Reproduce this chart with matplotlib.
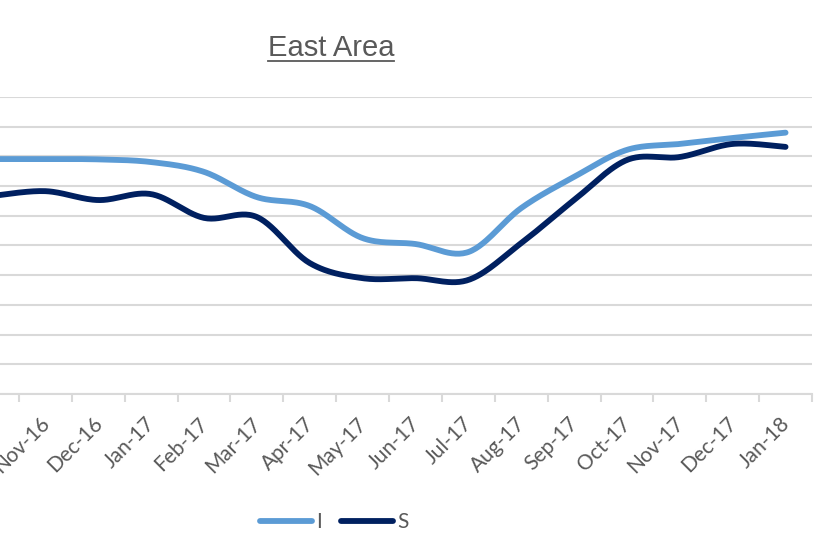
import numpy as np
import matplotlib
matplotlib.use("Agg")
import matplotlib.pyplot as plt
from matplotlib.lines import Line2D
from matplotlib.transforms import ScaledTranslation

months = ["Oct-16", "Nov-16", "Dec-16", "Jan-17", "Feb-17", "Mar-17", "Apr-17",
          "May-17", "Jun-17", "Jul-17", "Aug-17", "Sep-17", "Oct-17", "Nov-17",
          "Dec-17", "Jan-18"]
series_i = [7.91, 7.91, 7.90, 7.81, 7.48, 6.63, 6.33, 5.25, 5.05, 4.78,
            6.26, 7.31, 8.22, 8.42, 8.62, 8.80]
series_s = [6.67, 6.83, 6.53, 6.73, 5.93, 5.96, 4.41, 3.90, 3.90, 3.84,
            5.08, 6.53, 7.88, 7.98, 8.42, 8.32]

GRID = "#d9d9d9"
TEXT = "#595959"
TITLE_FONT = "Liberation Sans"
LABEL_FONT = "Lato"


def smooth(x, y, steps=30):
    # bezier through every point, tangents as in a Catmull-Rom spline
    x = np.asarray(x, float)
    y = np.asarray(y, float)
    px = np.concatenate([[x[0]], x, [x[-1]]])
    py = np.concatenate([[y[0]], y, [y[-1]]])
    xs, ys = [], []
    t = np.linspace(0, 1, steps)
    for k in range(len(x) - 1):
        p0 = np.array([px[k], py[k]])
        p1 = np.array([px[k + 1], py[k + 1]])
        p2 = np.array([px[k + 2], py[k + 2]])
        p3 = np.array([px[k + 3], py[k + 3]])
        c1 = p1 + (p2 - p0) / 6.0
        c2 = p2 - (p3 - p1) / 6.0
        b = ((1 - t) ** 3)[:, None] * p1 + (3 * (1 - t) ** 2 * t)[:, None] * c1 \
            + (3 * (1 - t) * t ** 2)[:, None] * c2 + (t ** 3)[:, None] * p2
        xs.extend(b[:, 0])
        ys.extend(b[:, 1])
    return np.array(xs), np.array(ys)


fig = plt.figure(figsize=(8.30, 5.57), dpi=100)
ax = fig.add_axes([-34 / 830, 1 - 394 / 557, 846 / 830, 297 / 557])

pos = np.arange(len(months))
for vals, color, name in [(series_i, "#5b9bd5", "I"), (series_s, "#002060", "S")]:
    sx, sy = smooth(pos, vals)
    ax.plot(sx, sy, color=color, lw=4.2, solid_capstyle="round", label=name, zorder=3)

ax.set_xlim(-0.5, len(months) - 0.5)
ax.set_ylim(0, 10)
ax.set_yticks(np.arange(0, 11))
ax.yaxis.grid(True, color=GRID, lw=1.5)
ax.set_axisbelow(True)
ax.tick_params(axis="y", left=False, labelleft=False)

for side in ["top", "right", "left"]:
    ax.spines[side].set_visible(False)
ax.spines["bottom"].set_color(GRID)
ax.spines["bottom"].set_linewidth(1.5)

# tick marks between categories, labels at the centres
ax.set_xticks(np.arange(-0.5, len(months)), minor=False)
ax.set_xticklabels([])
ax.tick_params(axis="x", which="major", direction="out", length=6, width=1.5, color=GRID)
ax.set_xticks(pos, minor=True)
ax.set_xticklabels(months, minor=True, rotation=45, ha="right", va="top",
                   rotation_mode="anchor", fontsize=15, color=TEXT, family=LABEL_FONT)
ax.tick_params(axis="x", which="minor", length=0, pad=14)
nudge = ScaledTranslation(-6 / 100, 0, fig.dpi_scale_trans)
for lbl in ax.get_xticklabels(minor=True):
    lbl.set_transform(lbl.get_transform() + nudge)

leg = fig.legend(loc="center", bbox_to_anchor=(334 / 830, 1 - 522 / 557), ncol=2,
                 frameon=False, handlelength=2.5, handletextpad=0.2, columnspacing=0.9,
                 prop={"family": LABEL_FONT, "size": 15})
for t in leg.get_texts():
    t.set_color(TEXT)

title = fig.text(331 / 830, 1 - 48 / 557, "East Area", ha="center", va="center",
                 fontsize=21, color=TEXT, family=TITLE_FONT)

# underline the title
fig.canvas.draw()
bb = title.get_window_extent().transformed(fig.transFigure.inverted())
uy = bb.y0 + 0.001
fig.add_artist(Line2D([bb.x0, bb.x1], [uy, uy], transform=fig.transFigure,
                      color=TEXT, lw=1.3))

fig.savefig("out.png", dpi=100)
